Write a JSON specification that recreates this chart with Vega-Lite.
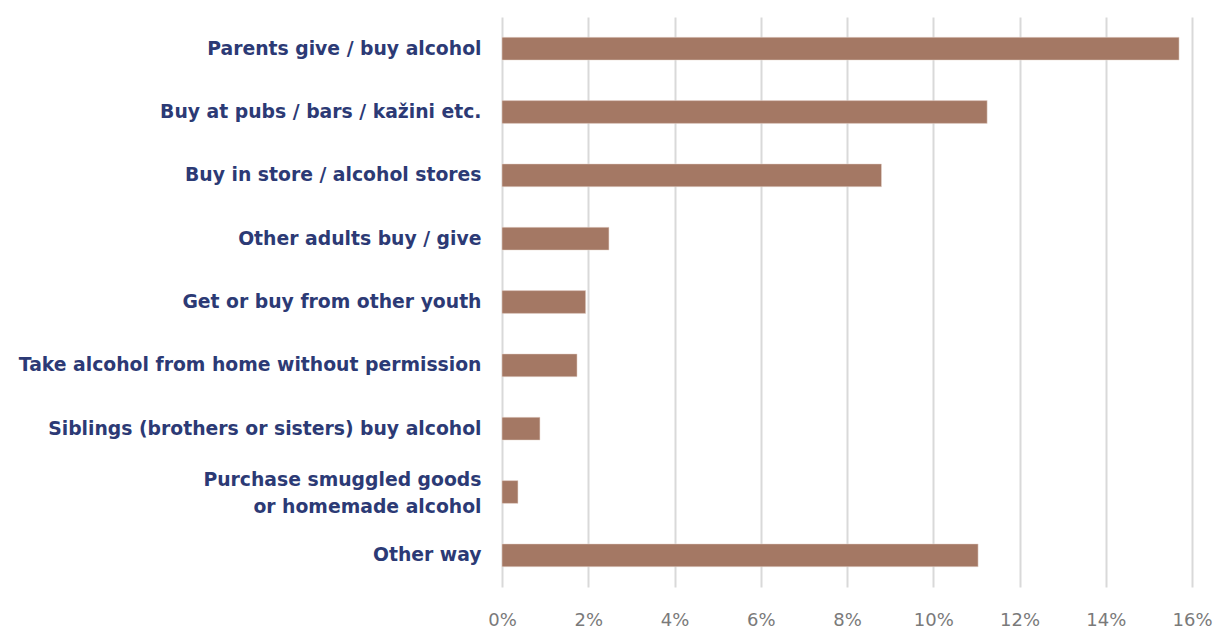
{
  "$schema": "https://vega.github.io/schema/vega-lite/v6.json",
  "width": 690,
  "height": 570,
  "autosize": {"type": "none"},
  "padding": {"left": 502, "top": 17, "right": 23, "bottom": 41},
  "background": "white",
  "data": {"values": [
    {"source": "Parents give / buy alcohol", "value": 0.1570},
    {"source": "Buy at pubs / bars / kažini etc.", "value": 0.1125},
    {"source": "Buy in store / alcohol stores", "value": 0.0880},
    {"source": "Other adults buy / give", "value": 0.0248},
    {"source": "Get or buy from other youth", "value": 0.0194},
    {"source": "Take alcohol from home without permission", "value": 0.0174},
    {"source": "Siblings (brothers or sisters) buy alcohol", "value": 0.0088},
    {"source": "Purchase smuggled goods or homemade alcohol", "value": 0.0037},
    {"source": "Other way", "value": 0.1104}
  ]},
  "mark": {"type": "bar", "color": "#a47864", "stroke": "#e8d8d0", "strokeWidth": 0.5},
  "encoding": {
    "y": {
      "field": "source", "type": "nominal", "sort": null,
      "scale": {"paddingInner": 0.64, "paddingOuter": 0.32},
      "axis": {
        "title": null, "domain": false, "ticks": false,
        "labelFont": "DejaVu Sans", "labelFontWeight": "bold", "labelFontSize": 18.8,
        "labelColor": "#2c3a75", "labelPadding": 21, "labelLimit": 600,
        "labelLineHeight": 27,
        "labelOffset": {"condition": {"test": "datum.value == 'Purchase smuggled goods or homemade alcohol'", "value": -12}, "value": 0},
        "labelExpr": "datum.value == 'Purchase smuggled goods or homemade alcohol' ? ['Purchase smuggled goods', 'or homemade alcohol'] : datum.value"
      }
    },
    "x": {
      "field": "value", "type": "quantitative",
      "scale": {"domain": [0, 0.16], "nice": false},
      "axis": {
        "title": null, "format": ".0%", "values": [0, 0.02, 0.04, 0.06, 0.08, 0.1, 0.12, 0.14, 0.16],
        "domain": false, "ticks": false, "labelFlush": false, "labelOverlap": false,
        "grid": true, "gridColor": "#d9d9d9", "gridWidth": 2,
        "labelFont": "DejaVu Sans", "labelFontSize": 18, "labelColor": "#7a7a7a",
        "labelPadding": 24
      }
    }
  },
  "config": {"view": {"stroke": null}}
}
